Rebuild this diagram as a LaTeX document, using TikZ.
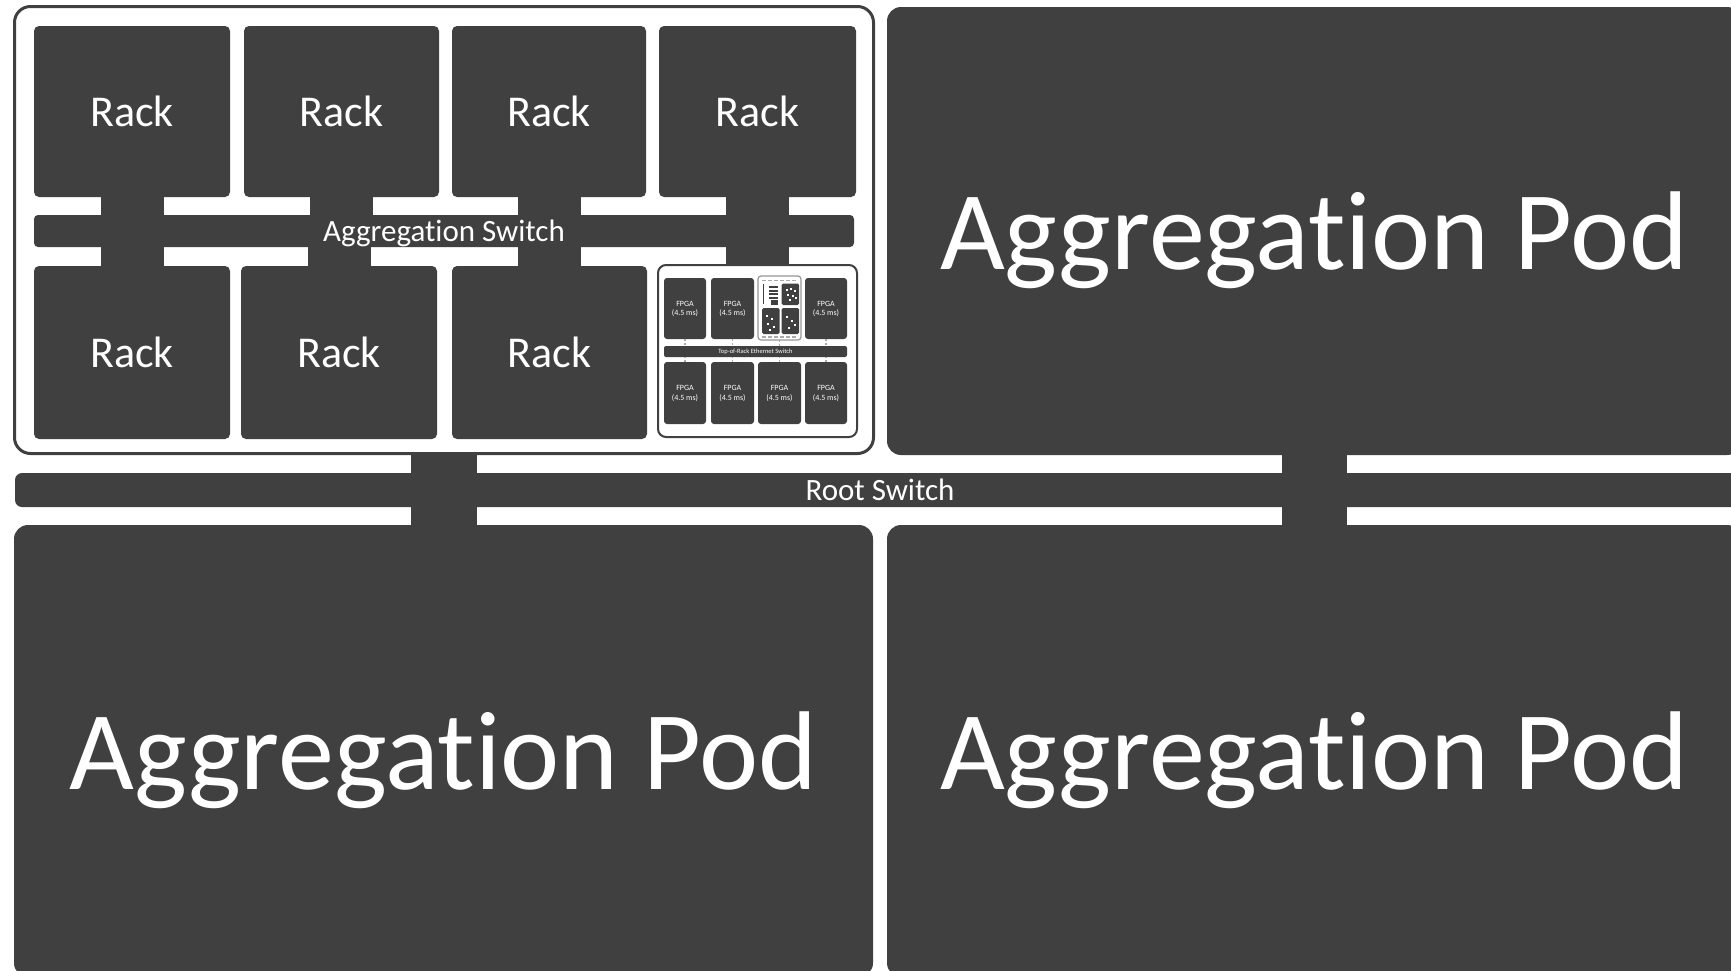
\documentclass[tikz,border=0pt]{standalone}
\usepackage{fontspec}
\setmainfont{Carlito}[Ligatures={NoCommon}]
\definecolor{slate}{RGB}{64,64,64}
\definecolor{haze}{RGB}{170,170,170}

% node given by its corners: name, style, x1, y1, x2, y2, text
\newcommand{\cbox}[7]{%
  \node[#2, minimum width={#5-#3}, minimum height={#6-#4}] (#1)
    at ({(#3+#5)/2},{(#4+#6)/2}) {#7};}

\tikzset{
  x=1pt, y=-1pt,
  block/.style={fill=slate, draw=none, rounded corners=#1, inner sep=0pt,
    outer sep=0pt, text=white, align=center, text depth=0pt},
  block/.default=5pt,
  frame/.style={fill=white, draw=slate, line width=#1, rounded corners=16pt,
    inner sep=0pt, outer sep=0pt},
  link/.style={draw=slate, line width=#1},
  tick/.style={draw=haze, line width=1.2pt, dash pattern=on 2pt off 2pt},
  rackfont/.style={font=\fontsize{44}{50}\selectfont},
  swfont/.style={font=\fontsize{31}{36}\selectfont},
  podfont/.style={font=\fontsize{112}{120}\selectfont},
  fpgafont/.style={font=\fontsize{8}{9.5}\selectfont},
  tinyfont/.style={font=\fontsize{6.5}{7}\selectfont},
}

\begin{document}
\begin{tikzpicture}
\useasboundingbox (0,0) rectangle (1731,970);

% ---------- expanded aggregation pod ----------
\cbox{pod1}{frame=3pt}{14.5}{6.5}{873.5}{453.5}{}

\cbox{r1}{block,rackfont}{34}{26}{230}{197}{Rack}
\cbox{r2}{block,rackfont}{244}{26}{439}{197}{Rack}
\cbox{r3}{block,rackfont}{452}{26}{646}{197}{Rack}
\cbox{r4}{block,rackfont}{659}{26}{856}{197}{Rack}

\cbox{agg}{block=4pt,swfont}{34}{215}{854}{247}{Aggregation Switch}

\cbox{r5}{block,rackfont}{34}{266}{230}{439}{Rack}
\cbox{r6}{block,rackfont}{241}{266}{437}{439}{Rack}
\cbox{r7}{block,rackfont}{452}{266}{647}{439}{Rack}

% expanded rack with its FPGAs
\node[fill=white, draw=slate, line width=2pt, rounded corners=8pt,
  inner sep=0pt, outer sep=0pt, minimum width=199, minimum height=172]
  (srack) at (757.5,351) {};

\cbox{f1}{block=3pt,fpgafont}{664}{278}{706}{339}{FPGA\\(4.5 ms)}
\cbox{f2}{block=3pt,fpgafont}{711}{278}{754}{339}{FPGA\\(4.5 ms)}
\cbox{f3}{block=3pt,fpgafont}{805}{278}{847}{339}{FPGA\\(4.5 ms)}
\node[fill=white, draw=slate!55, line width=1.2pt, rounded corners=3pt,
  inner sep=0pt, outer sep=0pt, minimum width=43, minimum height=64]
  (mini) at (779.5,308) {};

\cbox{sbar}{block=2pt,tinyfont}{664}{346}{847}{357}{Top-of-Rack Ethernet Switch}

\cbox{f4}{block=3pt,fpgafont}{664}{362}{706}{424}{FPGA\\(4.5 ms)}
\cbox{f5}{block=3pt,fpgafont}{711}{362}{754}{424}{FPGA\\(4.5 ms)}
\cbox{f6}{block=3pt,fpgafont}{758}{362}{801}{424}{FPGA\\(4.5 ms)}
\cbox{f7}{block=3pt,fpgafont}{805}{362}{847}{424}{FPGA\\(4.5 ms)}

% server board inside the miniature slot
\draw[haze, line width=1.3pt, dash pattern=on 4pt off 2pt] (762,280.5) -- (798,280.5);
\draw[haze, line width=1.3pt, dash pattern=on 4pt off 2pt] (762,337) -- (798,337);
\draw[slate, line width=1.4pt] (763.5,284) -- (763.5,304);
\foreach \yy in {286,289.5,293,296.5} \fill[slate] (769,\yy) rectangle (778,\yy+2);
\fill[slate] (771,300) rectangle (778,305);
\cbox{m1}{block=1.5pt}{781.5}{283.5}{799}{305}{}
\cbox{m2}{block=1.5pt}{762}{308}{779.5}{334}{}
\cbox{m3}{block=1.5pt}{781.5}{308}{799}{334}{}
\foreach \dx/\dy in {786/289,790/288,794/290,787/294,792/295,795/297,789/299}
  \fill[white] (\dx,\dy) rectangle +(2,1.5);
\foreach \dx/\dy in {766/315,771/318,767/323,773/326,769/329}
  \fill[white] (\dx,\dy) rectangle +(1.5,2);
\foreach \dx/\dy in {786/316,791/320,794/324,788/327}
  \fill[white] (\dx,\dy) rectangle +(1.5,2);

% links inside the expanded rack
\foreach \n in {f1,f2,f3,mini} \draw[tick] (\n.south) -- (\n.south |- sbar.north);
\foreach \n in {f4,f5,f6,f7} \draw[tick] (\n.north) -- (\n.north |- sbar.south);

% racks to the aggregation switch
\foreach \n in {r1,r2,r3,r4} \draw[link=63pt] (\n.south) -- (\n.south |- agg.north);
\foreach \n in {r5,r6,r7,srack} \draw[link=63pt] (\n.north) -- (\n.north |- agg.south);

% ---------- other aggregation pods ----------
\cbox{pod2}{block=14pt,podfont}{887}{7}{1741}{455}{Aggregation Pod}
\cbox{pod3}{block=14pt,podfont}{14}{525}{873}{977}{Aggregation Pod}
\cbox{pod4}{block=14pt,podfont}{887}{525}{1741}{977}{Aggregation Pod}

% ---------- root switch ----------
\cbox{root}{block=7pt,swfont}{15}{473}{1745}{507}{Root Switch}

\draw[link=66pt] (pod1.south) -- (pod1.south |- root.north);
\draw[link=66pt] (root.south -| pod3.north) -- (pod3.north);
\draw[link=65pt] (pod2.south) -- (pod2.south |- root.north);
\draw[link=65pt] (root.south -| pod4.north) -- (pod4.north);

\end{tikzpicture}
\end{document}
